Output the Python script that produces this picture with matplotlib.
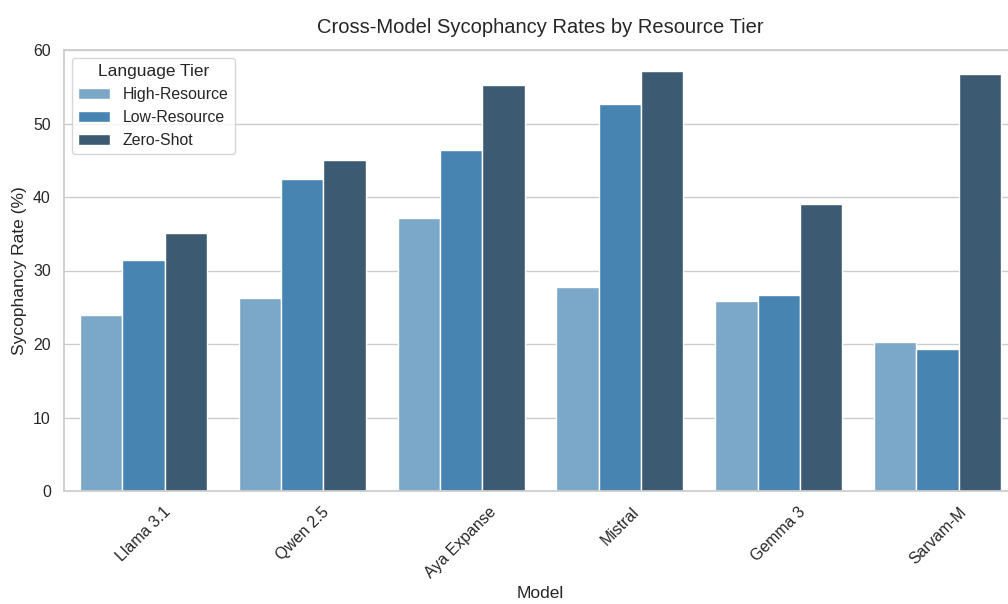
import numpy as np
import pandas as pd
import matplotlib
matplotlib.use("Agg")
import matplotlib.pyplot as plt
import seaborn as sns

models = ["Llama 3.1", "Qwen 2.5", "Aya Expanse", "Mistral", "Gemma 3", "Sarvam-M"]
tiers = ["High-Resource", "Low-Resource", "Zero-Shot"]
high_resource = [24.0, 26.2, 37.1, 27.8, 25.9, 20.3]
low_resource = [31.4, 42.4, 46.4, 52.6, 26.7, 19.3]
zero_shot = [35.1, 45.1, 55.2, 57.1, 39.0, 56.7]
tier_colors = ["#7ba7c8", "#4884b1", "#3c5b73"]

rows = []
for tier, vals in zip(tiers, [high_resource, low_resource, zero_shot]):
    for m, v in zip(models, vals):
        rows.append({"Model": m, "Language Tier": tier, "Sycophancy Rate (%)": v})
df = pd.DataFrame(rows)

sns.set_theme(style="whitegrid")
plt.rcParams["font.family"] = ["Arial", "Liberation Sans", "DejaVu Sans"]

fig = plt.figure(figsize=(10.08, 6.04), dpi=100)
ax = fig.add_axes([64 / 1008, 1 - 491 / 604, (1017 - 64) / 1008, (491 - 50) / 604])

sns.barplot(data=df, x="Model", y="Sycophancy Rate (%)", hue="Language Tier",
            hue_order=tiers, palette=tier_colors, ax=ax, saturation=1,
            edgecolor="white", linewidth=1)

ax.set_ylim(0, 60)
ax.set_xlim(-0.5, 5.5)
ax.set_title("Cross-Model Sycophancy Rates by Resource Tier", fontsize=14.5, pad=12)
ax.set_xlabel("Model", fontsize=12.5)
ax.set_ylabel("Sycophancy Rate (%)", fontsize=12.5)
plt.setp(ax.get_xticklabels(), rotation=45)
ax.tick_params(labelsize=11.4)
ax.legend(title="Language Tier", loc="upper left", fontsize=11.4, title_fontsize=12.5)

fig.savefig("out.png", dpi=100)
